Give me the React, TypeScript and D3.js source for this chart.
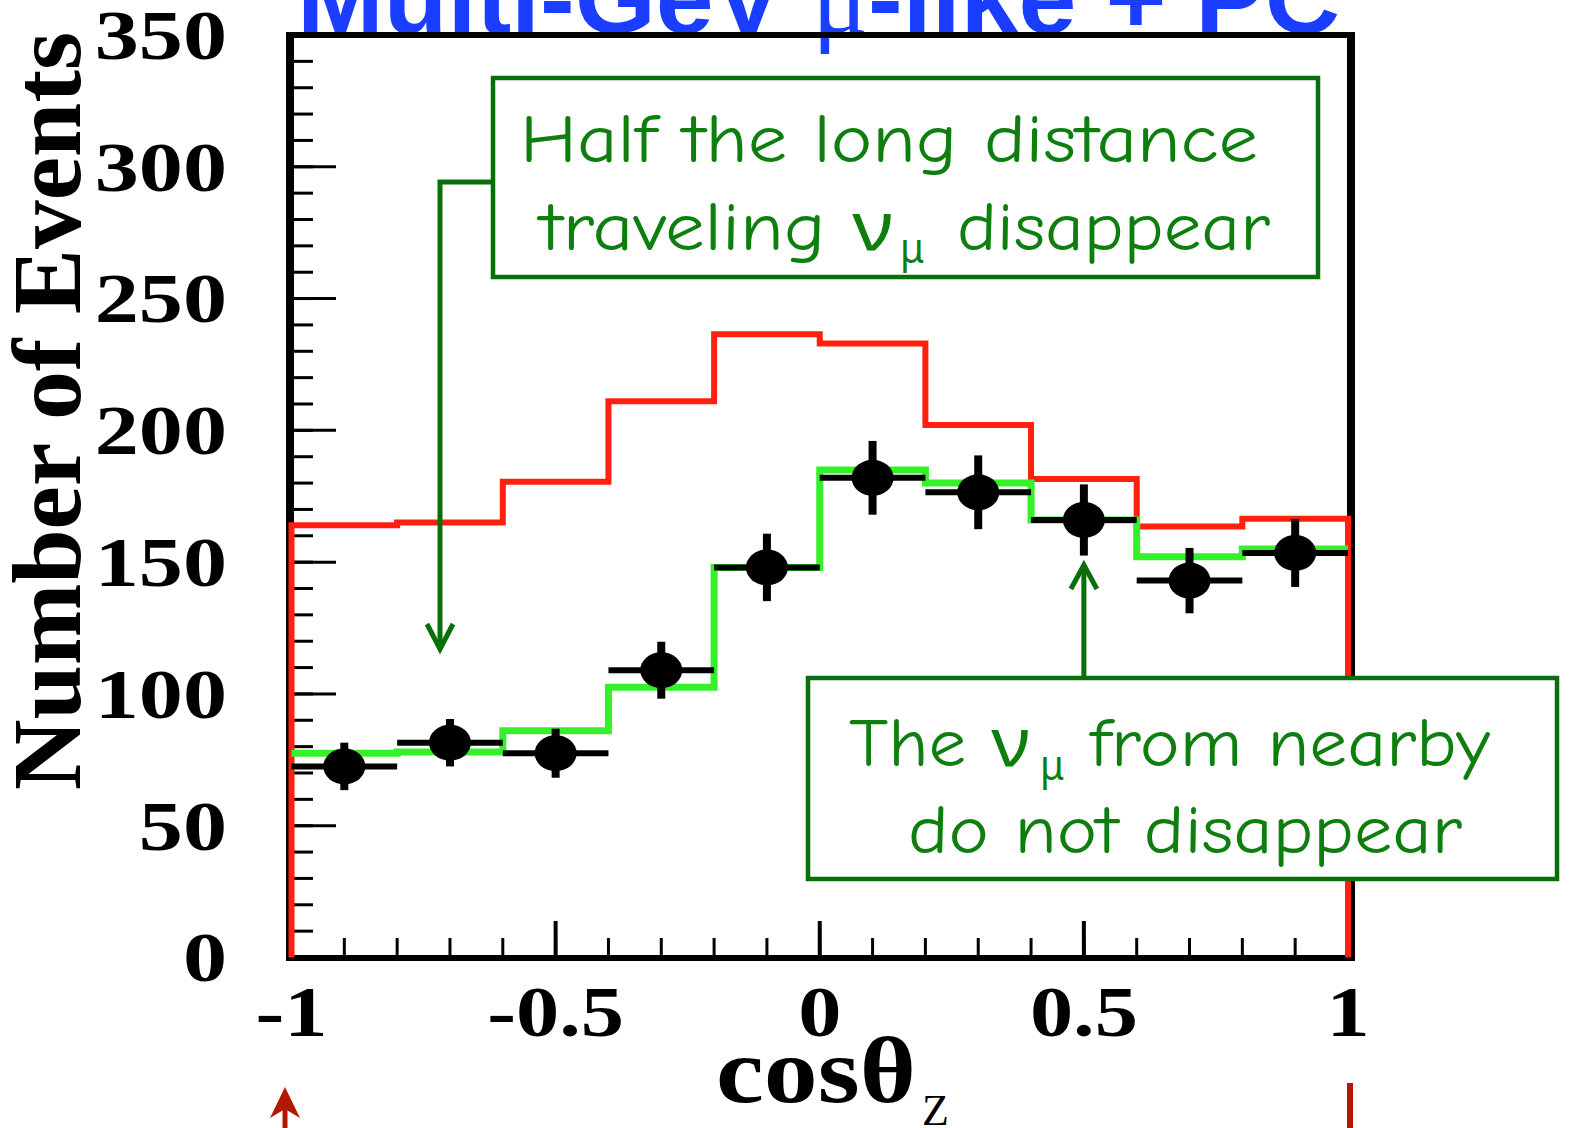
import React from "react";
import * as d3 from "d3";

// cos(theta_z) binning
const binEdges = [-1, -0.8, -0.6, -0.4, -0.2, 0, 0.2, 0.4, 0.6, 0.8, 1];
const binCenters = [-0.9, -0.7, -0.5, -0.3, -0.1, 0.1, 0.3, 0.5, 0.7, 0.9];

// MC without oscillation (red)
const noOscillation = [164, 165, 180.5, 211, 236.5, 233, 202, 181.5, 163.5, 166.5];
// best fit with oscillation (green)
const bestFit = [77.5, 78, 86, 102.5, 148, 185, 180, 166, 152, 155];
// data points with errors
const dataValues = [72.5, 81.5, 77.5, 109, 148, 182, 176.5, 166, 143, 153.5];
const dataErrors = [9, 9, 9.3, 10.8, 12.8, 14, 14, 13.5, 12.4, 12.9];

const yMajorTicks = [0, 50, 100, 150, 200, 250, 300, 350];
const yTickLabels = ["0", "50", "100", "150", "200", "250", "300", "350"];
const yMinorTicks = [0, 10, 20, 30, 40, 50, 60, 70, 80, 90, 100, 110, 120, 130, 140, 150, 160, 170, 180, 190, 200, 210, 220, 230, 240, 250, 260, 270, 280, 290, 300, 310, 320, 330, 340, 350];
const xMajorTicks = [-1, -0.5, 0, 0.5, 1];
const xTickLabels = ["-1", "-0.5", "0", "0.5", "1"];
const xMinorTicks = [-1, -0.9, -0.8, -0.7, -0.6, -0.5, -0.4, -0.3, -0.2, -0.1, 0, 0.1, 0.2, 0.3, 0.4, 0.5, 0.6, 0.7, 0.8, 0.9, 1];

const SERIF = '"Liberation Serif", "Times New Roman", serif';
const SANS = '"Liberation Sans", Arial, sans-serif';
const COMIC = '"Comic Sans MS", "Comic Neue", "Noto Sans", sans-serif';
const BOX_GREEN = "#0a6e0a";
const TEXT_GREEN = "#0e7e0e";
const DARK_RED = "#b01800";

const width = 1575, height = 1128;
const frame = { left: 290, right: 1351, top: 35, bottom: 958 };

const x = d3.scaleLinear().domain([-1, 1]).range([291.5, 1348]);
const y = d3.scaleLinear().domain([0, 350]).range([957.5, 35]);

const step = d3.line<number[]>()
  .x(d => x(d[0]))
  .y(d => y(d[1]))
  .curve(d3.curveStepAfter);

const Note = ({ tx, ty, str, len, size = 68 }) => (
  <text x={tx} y={ty} textLength={len} lengthAdjust="spacingAndGlyphs"
    fontFamily={COMIC} fontSize={size} fill={TEXT_GREEN}>{str}</text>
);

const App = () => {
  const redPts = [[-1, 0]];
  noOscillation.forEach((v, i) => redPts.push([binEdges[i], v]));
  redPts.push([1, noOscillation[noOscillation.length - 1]]);
  redPts.push([1, 0]);

  const greenPts = bestFit.map((v, i) => [binEdges[i], v]);
  greenPts.push([1, bestFit[bestFit.length - 1]]);

  const ax = x(0.5);

  return (
    <svg width={width} height={height}
      style={{ position: "absolute", left: 0, top: 0, display: "block", background: "#fff" }}>
      {/* title, cut at the top */}
      <text x={297} y={33} textLength={1043} lengthAdjust="spacingAndGlyphs"
        fontFamily={SANS} fontWeight="bold" fontSize={100} fill="#1a3dff">
        <tspan>Multi-GeV </tspan>
        <tspan fontFamily={SERIF} fontWeight="normal">μ</tspan>
        <tspan>-like + PC</tspan>
      </text>

      {/* frame */}
      <line x1={frame.left} x2={frame.left} y1={frame.top - 3} y2={frame.bottom + 3} stroke="#000" strokeWidth={8} />
      <line x1={frame.right} x2={frame.right} y1={frame.top - 3} y2={frame.bottom + 3} stroke="#000" strokeWidth={8} />
      <line x1={frame.left} x2={frame.right} y1={frame.top} y2={frame.top} stroke="#000" strokeWidth={6} />
      <line x1={frame.left} x2={frame.right} y1={frame.bottom} y2={frame.bottom} stroke="#000" strokeWidth={6} />

      {/* y ticks */}
      {yMinorTicks.map(t => (
        <line key={"ym" + t} x1={frame.left} x2={frame.left + 23} y1={y(t)} y2={y(t)} stroke="#000" strokeWidth={3} />
      ))}
      {yMajorTicks.map((t, i) => (
        <g key={"yM" + t} transform={`translate(${frame.left},${y(t)})`}>
          <line x1={0} x2={46} stroke="#000" strokeWidth={3} />
          <text transform="translate(-63,0) scale(1.26,1)" dy="0.34em" textAnchor="end"
            fontFamily={SERIF} fontWeight="bold" fontSize={70} fill="#000">{yTickLabels[i]}</text>
        </g>
      ))}

      {/* x ticks */}
      {xMinorTicks.map(t => (
        <line key={"xm" + t} x1={x(t)} x2={x(t)} y1={frame.bottom} y2={frame.bottom - 20} stroke="#000" strokeWidth={3} />
      ))}
      {xMajorTicks.map((t, i) => (
        <g key={"xM" + t} transform={`translate(${x(t)},${frame.bottom})`}>
          <line y1={0} y2={-37} stroke="#000" strokeWidth={4} />
          <text y={78} transform="scale(1.2,1)" textAnchor="middle"
            fontFamily={SERIF} fontWeight="bold" fontSize={72} fill="#000">{xTickLabels[i]}</text>
        </g>
      ))}

      {/* histograms */}
      <path d={step(redPts)} fill="none" stroke="#ff2010" strokeWidth={6} />
      <path d={step(greenPts)} fill="none" stroke="#36f02a" strokeWidth={7} />

      {/* data points */}
      {dataValues.map((v, i) => {
        const cx = x(binCenters[i]);
        const cy = y(v);
        return (
          <g key={"p" + i}>
            <line x1={x(binEdges[i])} x2={x(binEdges[i + 1])} y1={cy} y2={cy} stroke="#000" strokeWidth={6} />
            <line x1={cx} x2={cx} y1={y(v - dataErrors[i])} y2={y(v + dataErrors[i])} stroke="#000" strokeWidth={8} />
            <ellipse cx={cx} cy={cy} rx={21} ry={18} fill="#000" />
          </g>
        );
      })}

      {/* annotation 1 */}
      <path d="M493,182 H440 V647" fill="none" stroke={BOX_GREEN} strokeWidth={5} />
      <path d="M427,624 L440,649 L453,624" fill="none" stroke={BOX_GREEN} strokeWidth={5} />
      <rect x={493} y={78} width={825} height={199} fill="#fff" stroke={BOX_GREEN} strokeWidth={4.5} />
      <Note tx={520} ty={162} str="Half the long distance" len={738} />
      <Note tx={540} ty={250} str="traveling ν" len={353} />
      <Note tx={900} ty={263} str="μ" len={24} size={42} />
      <Note tx={957} ty={250} str="disappear" len={313} />

      {/* annotation 2 */}
      <line x1={ax} x2={ax} y1={678} y2={567} stroke={BOX_GREEN} strokeWidth={5} />
      <path d={`M${ax - 13},589 L${ax},565 L${ax + 13},589`} fill="none" stroke={BOX_GREEN} strokeWidth={5} />
      <rect x={808} y={678} width={749} height={201} fill="#fff" stroke={BOX_GREEN} strokeWidth={4.5} />
      <Note tx={849} ty={766} str="The ν" len={181} />
      <Note tx={1040} ty={780} str="μ" len={24} size={42} />
      <Note tx={1090} ty={766} str="from nearby" len={400} />
      <Note tx={908} ty={853} str="do not disappear" len={554} />

      {/* axis titles */}
      <text transform="translate(80,411) rotate(-90)" textAnchor="middle" textLength={758}
        lengthAdjust="spacingAndGlyphs" fontFamily={SERIF} fontWeight="bold" fontSize={98} fill="#000">
        Number of Events
      </text>
      <text x={716} y={1102} textLength={200} lengthAdjust="spacingAndGlyphs"
        fontFamily={SERIF} fontWeight="bold" fontSize={94} fill="#000">cosθ</text>
      <text x={922} y={1125} fontFamily={SERIF} fontSize={44} fill="#000">Z</text>

      {/* red markers at the bottom edge */}
      <line x1={285} x2={285} y1={1128} y2={1104} stroke={DARK_RED} strokeWidth={5} />
      <path d="M285,1087 L270,1118 L285,1109 L300,1118 Z" fill={DARK_RED} />
      <line x1={1350} x2={1350} y1={1083} y2={1128} stroke={DARK_RED} strokeWidth={6} />
    </svg>
  );
};

export default App;
